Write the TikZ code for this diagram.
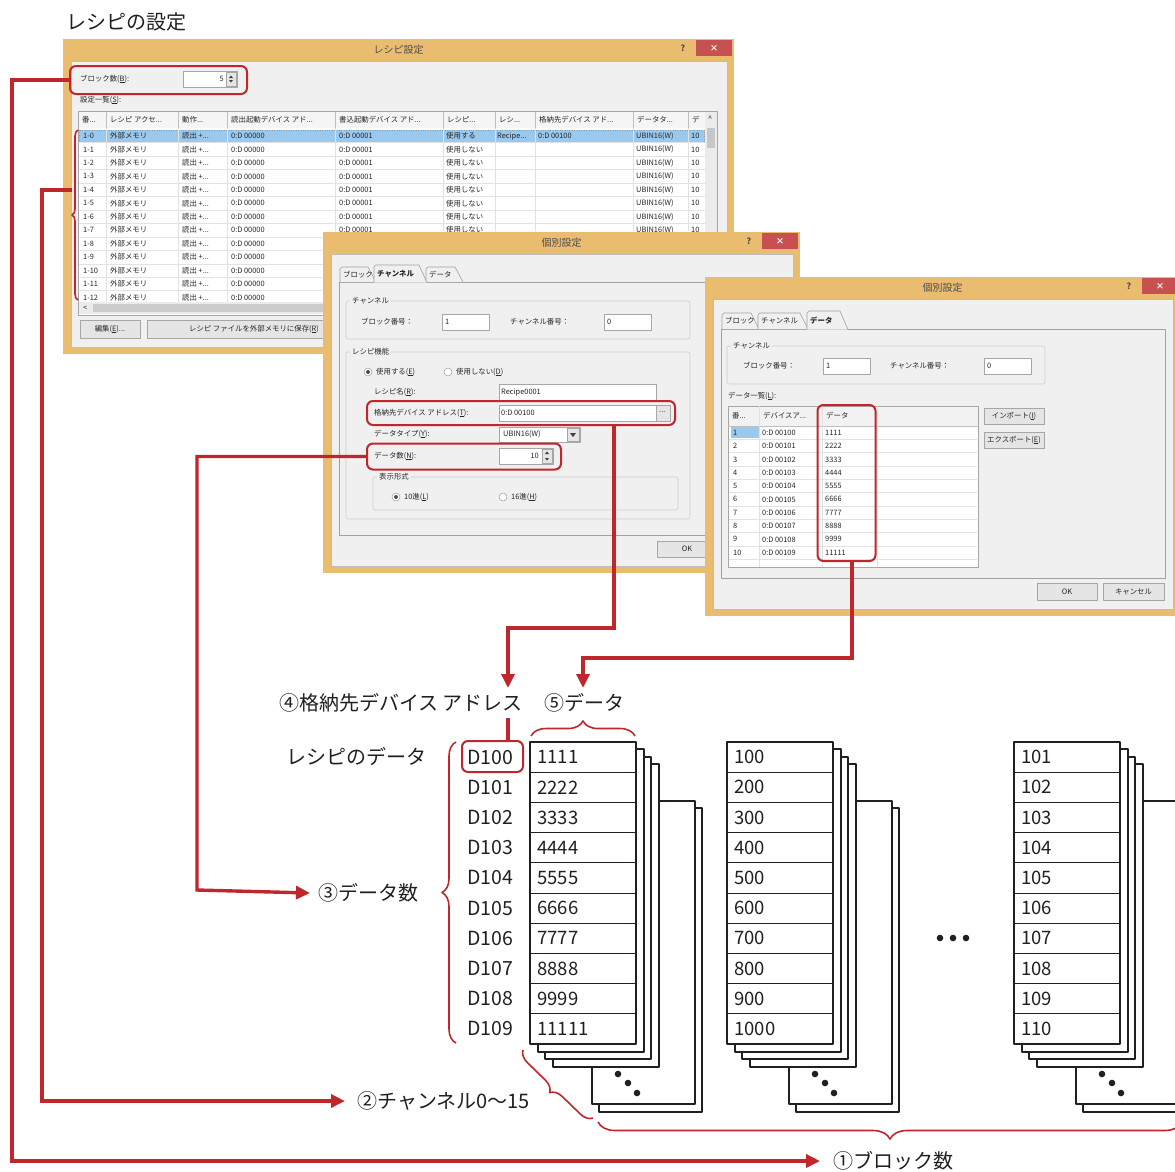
\documentclass[tikz,border=0pt]{standalone}
\usepackage{fontspec}
\setmainfont{Noto Sans CJK JP}
\usetikzlibrary{arrows.meta,decorations.pathreplacing}

\definecolor{annored}{RGB}{192,39,45}
\definecolor{wintan}{RGB}{233,188,112}
\definecolor{winface}{RGB}{240,240,240}
\definecolor{closered}{RGB}{199,80,80}
\definecolor{selblue}{RGB}{153,201,239}
\definecolor{gridgray}{RGB}{226,226,226}
\definecolor{edgegray}{RGB}{160,160,160}
\definecolor{inkgray}{RGB}{35,31,32}

\newcommand{\dlgwin}[6]{%
  \fill[wintan] (#2,#3) rectangle (#4,#5);
  \filldraw[fill=winface,draw=edgegray!70] (#2+8,#3+22) rectangle (#4-7,#5-7);
  \node[wtitle] (#1title) at ({(#2+#4)/2},#3+11) {#6};
  \node[wtitle,font=\bfseries\fontsize{8.5}{9}\selectfont] (#1help) at (#4-51,#3+9) {?};
  \fill[closered] (#4-38,#3+1) rectangle (#4-2,#3+17);
  \node[wtitle,text=white,font=\bfseries\fontsize{8.5}{9}\selectfont] (#1close) at (#4-20,#3+9) {×};
}
\newcommand{\tabitem}[6]{%
  \filldraw[fill=winface,draw=edgegray,line width=0.6pt] (#2,#5) -- (#2,#4+2) -- (#2+2,#4) -- (#3-6,#4) -- (#3+2,#5);
  \node[scr] (#1) at (#2+3,{(#4+#5)/2}) {#6};
}
\newcommand{\datastack}[3]{%
  \draw[sheet] (#1+69,808) rectangle (#1+172,1112);
  \draw[sheet] (#1+62,801) rectangle (#1+165,1104);
  \fill[inkgray] (#1+88,1074) circle (3.3) (#1+98,1083) circle (3.3) (#1+107,1093) circle (3.3);
  \draw[sheet] (#1+23,764) rectangle (#1+129,1067);
  \draw[sheet] (#1+15,757) rectangle (#1+121,1059);
  \draw[sheet] (#1+8,749) rectangle (#1+114,1052);
  \draw[sheet] (#1,742) rectangle (#1+106,1044);
  \foreach \v [count=\i from 0] in {#3}{
    \node[celltxt] (#2\i) at (#1+7,757.1+30.2*\i) {\v};
    \ifnum\i>0 \draw[cellline] (#1,742+30.2*\i) -- (#1+106,742+30.2*\i);\fi
  }
}

\begin{document}
\begin{tikzpicture}[x=1pt,y=-1pt,line join=round,
  wtitle/.style={font=\fontsize{10}{11}\selectfont,text=black!70,inner sep=0pt},
  scr/.style={font=\fontsize{7.4}{8}\selectfont,text=black!85,inner sep=0pt,anchor=west},
  field/.style={fill=white,draw=gray!70,line width=0.6pt},
  btn/.style={fill=black!10,draw=gray!70,line width=0.6pt},
  grp/.style={draw=gray!40,line width=0.6pt,rounded corners=2pt},
  grid/.style={draw=gridgray,line width=0.5pt},
  radio/.style={fill=white,draw=gray!80,line width=0.5pt},
  sheet/.style={fill=white,draw=inkgray,line width=1.6pt},
  cellline/.style={draw=inkgray,line width=0.9pt},
  celltxt/.style={font=\fontsize{18.5}{20}\selectfont,text=inkgray,anchor=west,inner sep=0pt},
  lbl/.style={font=\fontsize{20}{22}\selectfont,text=inkgray,inner sep=0pt},
  redbox/.style={draw=annored,line width=2pt,rounded corners=6pt,inner sep=0pt},
  annoline/.style={draw=annored,line width=3.4pt,line join=miter},
  annoarrow/.style={annoline,-{Triangle[length=14pt,width=13pt]}},
  redbrace/.style={draw=annored,line width=1.6pt,decorate}]
  \useasboundingbox (0,0) rectangle (1175,1171);
  \node[lbl,anchor=west] (lblsetup) at (66,22) {レシピの設定};

  \dlgwin{w1}{63}{39}{734}{354}{レシピ設定}
  \node[scr] (w1blk) at (80,79) {ブロック数(\underline{B}):};
  \draw[field] (183,71) rectangle (237,87);
  \node[scr,anchor=east] (w1blkv) at (224,79) {5};
  \draw[btn] (226,72) rectangle (236,86);
  \fill[black!75] (229,78) -- (233,78) -- (231,75.5) -- cycle (229,80) -- (233,80) -- (231,82.5) -- cycle;
  \node[scr] (w1list) at (80,100) {設定一覧(\underline{S}):};
  \draw[field] (78,111) rectangle (717,315);
  \fill[black!4] (79,112) rectangle (705,128);
  \foreach \cx/\ct in {82/{番...},110/{レシピ アクセ...},182/{動作...},231/{読出起動デバイス アド...},339/{書込起動デバイス アド...},447/{レシピ...},499/{レシ...},539/{格納先デバイス アド...},637/{データタ...},692/{デ}}
    \node[scr] (w1h\cx) at (\cx,120) {\ct};
  \begin{scope}
    \clip (79,128) -- (705,128) -- (705,231) -- (323,231) -- (323,302) -- (79,302) -- cycle;
    \fill[selblue] (79,130) rectangle (705,142.5);
    \draw[black!40,dotted] (79.5,130) rectangle (704.5,142.5);
    \foreach \cx in {106,178,227,335,443,495,535,633,688}
      \draw[grid] (\cx,112) -- (\cx,302);
    \foreach \i in {0,...,12}{
      \pgfmathsetmacro{\ry}{136+13.45*\i}
      \node[scr] (w1n\i) at (83,\ry) {1-\i};
      \node[scr] (w1a\i) at (110,\ry) {外部メモリ};
      \node[scr] (w1b\i) at (182,\ry) {読出 +{...}};
      \node[scr] (w1c\i) at (231,\ry) {0:D 00000};
      \draw[grid] (79,\ry+6.7) -- (705,\ry+6.7);
    }
    \foreach \i in {0,...,7}{
      \pgfmathsetmacro{\ry}{136+13.45*\i}
      \node[scr] (w1d\i) at (339,\ry) {0:D 00001};
      \node[scr] (w1e\i) at (446,\ry) {\ifnum\i=0 使用する\else 使用しない\fi};
      \node[scr] (w1f\i) at (636,\ry) {UBIN16(W)};
      \node[scr] (w1g\i) at (691,\ry) {10};
    }
    \node[scr] (w1rcp) at (497,136) {Recipe...};
    \node[scr] (w1adr) at (538,136) {0:D 00100};
  \end{scope}
  \foreach \cx in {106,178,227,335,443,495,535,633,688,705}
    \draw[gray!50,line width=0.5pt] (\cx,112) -- (\cx,128);
  \fill[black!8] (705,112) rectangle (717,302);
  \fill[black!22] (707,128) rectangle (715,148);
  \node[scr] (w1up) at (708,119) {\^{}};
  \fill[black!8] (79,302) rectangle (705,314);
  \fill[black!20] (93,304) rectangle (340,312);
  \node[scr] (w1left) at (83,308) {<};
  \draw[btn] (80,320) rectangle (140,338);
  \node[scr,anchor=center] (w1edit) at (110,329) {編集(\underline{E})...};
  \draw[btn] (147,320) rectangle (340,338);
  \node[scr,anchor=center] (w1save) at (254,329) {レシピ ファイルを外部メモリに保存(\underline{R})};

  \dlgwin{w2}{323}{232}{800}{573}{個別設定}
  \filldraw[fill=winface,draw=edgegray,line width=0.6pt] (339,282) rectangle (791,535);
  \tabitem{w2t1}{340}{374}{267}{282}{ブロック}
  \tabitem{w2t3}{426}{461}{267}{282}{データ}
  \tabitem{w2t2}{374}{425}{265}{282.6}{\bfseries チャンネル}
  \draw[grp] (346,301) rectangle (690,339);
  \node[scr,fill=winface,inner xsep=2pt] (w2g1) at (350,301) {チャンネル};
  \node[scr] (w2bn) at (361,322) {ブロック番号：};
  \draw[field] (442,314) rectangle (489,330);
  \node[scr] (w2bv) at (445,322) {1};
  \node[scr] (w2cn) at (510,322) {チャンネル番号：};
  \draw[field] (604,314) rectangle (651,330);
  \node[scr] (w2cv) at (607,322) {0};
  \draw[grp] (346,352) rectangle (690,519);
  \node[scr,fill=winface,inner xsep=2pt] (w2g2) at (350,352) {レシピ機能};
  \draw[radio] (368,372) circle (4);
  \fill[black!70] (368,372) circle (2);
  \node[scr] (w2r1) at (376,372) {使用する(\underline{E})};
  \draw[radio] (448,372) circle (4);
  \node[scr] (w2r2) at (456,372) {使用しない(\underline{D})};
  \node[scr] (w2nm) at (374,392) {レシピ名(\underline{R}):};
  \draw[field] (499,384) rectangle (656,400);
  \node[scr] (w2nv) at (501,392) {Recipe0001};
  \node[scr] (w2ad) at (374,413) {格納先デバイス アドレス(\underline{T}):};
  \draw[field] (499,405) rectangle (656,421);
  \node[scr] (w2av) at (501,413) {0:D 00100};
  \draw[btn] (656,405) rectangle (670,421);
  \node[scr] (w2ab) at (659,412) {...};
  \node[scr] (w2ty) at (374,434) {データタイプ(\underline{Y}):};
  \draw[field] (499,427) rectangle (580,442);
  \node[scr] (w2tv) at (503,434.5) {UBIN16(W)};
  \draw[btn] (567,428) rectangle (579,441);
  \fill[black!75] (570,433) -- (576,433) -- (573,437) -- cycle;
  \node[scr] (w2dn) at (374,456) {データ数(\underline{N}):};
  \draw[field] (499,448) rectangle (553,464);
  \node[scr,anchor=east] (w2dv) at (539,456) {10};
  \draw[btn] (542,449) rectangle (552,463);
  \fill[black!75] (545,454) -- (549,454) -- (547,451.5) -- cycle (545,458) -- (549,458) -- (547,460.5) -- cycle;
  \draw[grp] (373,477) rectangle (678,510);
  \node[scr,fill=winface,inner xsep=2pt] (w2g3) at (377,477) {表示形式};
  \draw[radio] (396,497) circle (4);
  \fill[black!70] (396,497) circle (2);
  \node[scr] (w2x1) at (404,497) {10進(\underline{L})};
  \draw[radio] (503,497) circle (4);
  \node[scr] (w2x2) at (511,497) {16進(\underline{H})};
  \draw[btn] (657,541) rectangle (720,557);
  \node[scr,anchor=center] (w2ok) at (687,549) {OK};

  \dlgwin{w3}{705}{277}{1180}{616}{個別設定}
  \filldraw[fill=winface,draw=edgegray,line width=0.6pt] (721,329) rectangle (1165,578);
  \tabitem{w3t1}{722}{757}{313}{329}{ブロック}
  \tabitem{w3t2}{758}{806}{313}{329}{チャンネル}
  \tabitem{w3t3}{807}{846}{311}{329.6}{\bfseries データ}
  \draw[grp] (727,346) rectangle (1045,384);
  \node[scr,fill=winface,inner xsep=2pt] (w3g1) at (731,346) {チャンネル};
  \node[scr] (w3bn) at (743,366) {ブロック番号：};
  \draw[field] (823,358) rectangle (870,374);
  \node[scr] (w3bv) at (826,366) {1};
  \node[scr] (w3cn) at (890,366) {チャンネル番号：};
  \draw[field] (984,358) rectangle (1031,374);
  \node[scr] (w3cv) at (987,366) {0};
  \node[scr] (w3list) at (728,396) {データ一覧(\underline{L}):};
  \draw[field] (728,406) rectangle (978,567);
  \fill[black!5] (728.5,406.5) rectangle (977.5,426);
  \draw[gray!50,line width=0.5pt] (728,426) -- (978,426);
  \foreach \cx in {759,822,877}
    \draw[grid] (\cx,406) -- (\cx,567);
  \node[scr] (w3h1) at (732,416) {番...};
  \node[scr] (w3h2) at (763,416) {デバイスア...};
  \node[scr] (w3h3) at (826,416) {データ};
  \fill[selblue] (731,427) rectangle (759,438);
  \foreach \v [count=\i from 0] in {1111,2222,3333,4444,5555,6666,7777,8888,9999,11111}{
    \pgfmathsetmacro{\ry}{432.7+13.33*\i}
    \pgfmathtruncatemacro{\n}{\i+1}
    \node[scr] (w3n\i) at (733,\ry) {\n};
    \node[scr] (w3a\i) at (762,\ry) {0:D 0010\i};
    \node[scr] (w3b\i) at (825,\ry) {\v};
    \draw[grid] (729,\ry+6.6) -- (977,\ry+6.6);
  }
  \draw[btn] (984,408) rectangle (1044,424);
  \node[scr,anchor=center] (w3imp) at (1014,416) {インポート(\underline{I})};
  \draw[btn] (984,432) rectangle (1044,448);
  \node[scr,anchor=center] (w3exp) at (1014,440) {エクスポート(\underline{E})};
  \draw[btn] (1037,583) rectangle (1097,600);
  \node[scr,anchor=center] (w3ok) at (1067,591.5) {OK};
  \draw[btn] (1103,583) rectangle (1164,600);
  \node[scr,anchor=center] (w3cancel) at (1133.5,591.5) {キャンセル};

  \datastack{530}{ca}{1111,2222,3333,4444,5555,6666,7777,8888,9999,11111}
  \datastack{727}{cb}{100,200,300,400,500,600,700,800,900,1000}
  \datastack{1014}{cc}{101,102,103,104,105,106,107,108,109,110}
  \foreach \dx in {940,953,966}
    \fill[inkgray] (\dx,938) circle (3.3);
  \foreach \i in {0,...,9}
    \node[lbl,font=\fontsize{19.5}{22}\selectfont,anchor=west] (d\i) at (467,757.1+30.2*\i) {D10\i};

  \node[lbl] (lbladdr) at (401,703) {④格納先デバイス アドレス};
  \node[lbl] (lbldata) at (584,703) {⑤データ};
  \node[lbl] (lblrec) at (356,757) {レシピのデータ};
  \node[lbl,anchor=west] (lblcnt) at (318,893) {③データ数};
  \node[lbl,anchor=west] (lblch) at (357,1101) {②チャンネル0〜15};
  \node[lbl,anchor=west] (lblblk) at (833,1161) {①ブロック数};

  \node[redbox,minimum width=177pt,minimum height=28pt] (boxblk) at (158.5,80) {};
  \node[redbox,minimum width=308pt,minimum height=24pt] (boxaddr) at (521,413) {};
  \node[redbox,minimum width=194pt,minimum height=26pt] (boxcnt) at (464,456.5) {};
  \node[redbox,minimum width=58pt,minimum height=156pt] (boxdata) at (846.5,483) {};
  \node[redbox,minimum width=61pt,minimum height=31pt] (boxd100) at (492.5,756.5) {};

  \draw[redbrace,decoration={brace,amplitude=6pt}] (78,300) -- (78,130);
  \draw[redbrace,decoration={brace,amplitude=14pt}] (456,1043) -- (456,742);
  \draw[redbrace,decoration={brace,amplitude=15pt}] (531,736) -- (635,736);
  \draw[redbrace,decoration={brace,amplitude=12pt}] (593,1118) -- (523,1050);
  \draw[redbrace,decoration={brace,amplitude=17pt}] (1182,1122) -- (598,1122);

  \coordinate (chtip) at (72,190);
  \coordinate (addrdrop) at (614,628);
  \coordinate (datadrop) at (852,658);
  \coordinate (d100drop) at (508,718);
  \draw[annoarrow] (boxblk.west) -| (12,1161) -- ([xshift=-13pt]lblblk.west);
  \draw[annoarrow] (chtip) -| (42,1101) -- ([xshift=-12pt]lblch.west);
  \draw[annoarrow] (boxcnt.west) -| (197,890) -- ([xshift=-8pt]lblcnt.west);
  \draw[annoarrow] (boxaddr.south -| addrdrop) -- (addrdrop) -| (508,688);
  \draw[annoline] (d100drop) -- (d100drop |- boxd100.north);
  \draw[annoarrow] (boxdata.south -| datadrop) -- (datadrop) -| (583,688);
\end{tikzpicture}
\end{document}
